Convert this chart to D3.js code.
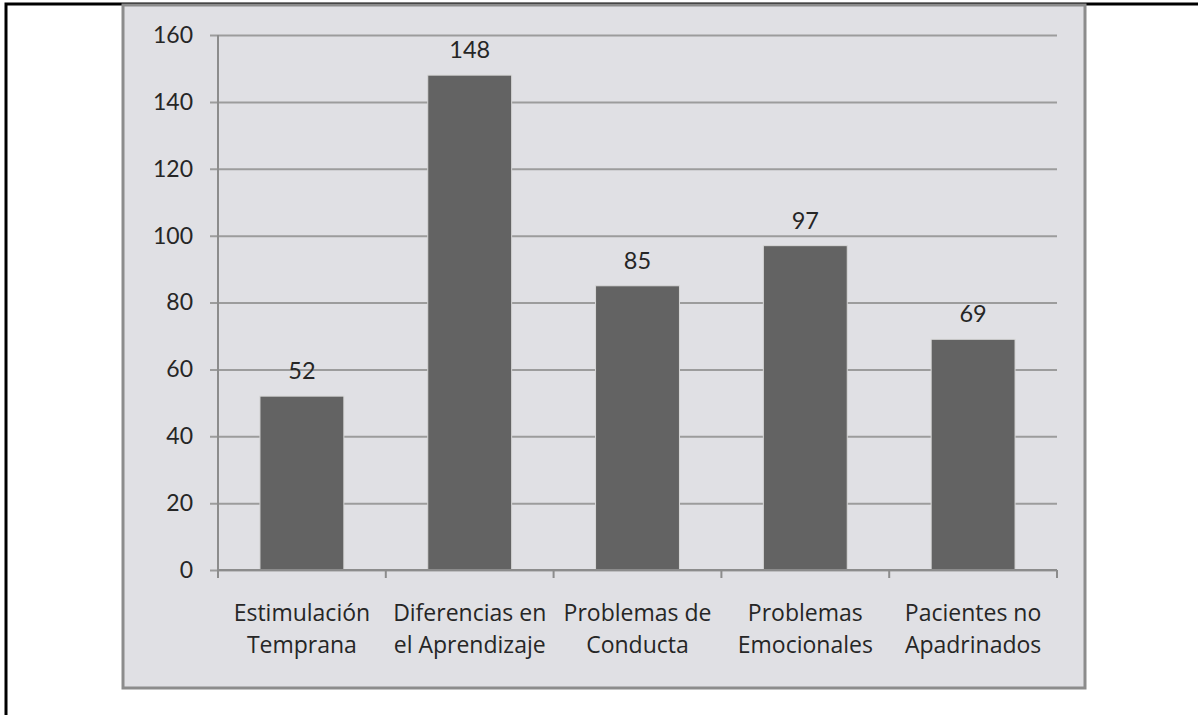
<!DOCTYPE html>
<html>
<head>
<meta charset="utf-8">
<title>Pacientes por programa</title>
<script src="https://d3js.org/d3.v7.min.js"></script>
<style>
  body { margin: 0; background: #fff; }
  svg { display: block; font-family: Lato, "Open Sans", sans-serif; }
</style>
</head>
<body>
<svg id="chart" width="1198" height="715"></svg>
<script>
// data
var categories = ["Estimulación Temprana", "Diferencias en el Aprendizaje", "Problemas de Conducta", "Problemas Emocionales", "Pacientes no Apadrinados"];
var labelLines = [["Estimulación", "Temprana"], ["Diferencias en", "el Aprendizaje"], ["Problemas de", "Conducta"], ["Problemas", "Emocionales"], ["Pacientes no", "Apadrinados"]];
var values = [52, 148, 85, 97, 69];
var yTicks = [0, 20, 40, 60, 80, 100, 120, 140, 160];

var svg = d3.select("#chart");

// outer frame (only top + left edges show)
svg.append("path")
  .attr("d", "M6,715 V4 H1198")
  .attr("fill", "none")
  .attr("stroke", "#000")
  .attr("stroke-width", 3);

// chart panel
svg.append("rect")
  .attr("x", 123).attr("y", 5)
  .attr("width", 962).attr("height", 683)
  .attr("fill", "#e0e0e4")
  .attr("stroke", "#8c8c8c")
  .attr("stroke-width", 3);

var x = d3.scaleBand()
  .domain(categories)
  .range([218, 1057])
  .paddingInner(0.5)
  .paddingOuter(0.25);

var y = d3.scaleLinear()
  .domain([0, 160])
  .range([570, 35]);

// gridlines + y axis
var yAxis = d3.axisLeft(y)
  .tickValues(yTicks)
  .tickSize(-(1057 - 210))
  .tickPadding(18);

var gy = svg.append("g")
  .attr("transform", "translate(210,0)")
  .call(yAxis);
gy.select(".domain").remove();
gy.selectAll(".tick line")
  .attr("stroke", "#9c9c9c")
  .attr("stroke-width", 2);
gy.selectAll(".tick text")
  .attr("x", -17)
  .attr("fill", "#262626")
  .style("font-size", "23px")
  .style("font-family", "Lato, sans-serif");

// vertical axis line
svg.append("line")
  .attr("x1", 218).attr("x2", 218)
  .attr("y1", y(160)).attr("y2", y(0) + 8)
  .attr("stroke", "#8c8c8c")
  .attr("stroke-width", 2);

// bars
svg.selectAll(".bar")
  .data(values)
  .enter()
  .append("rect")
  .attr("class", "bar")
  .attr("x", function(d, i) { return x(categories[i]); })
  .attr("y", function(d) { return y(d); })
  .attr("width", x.bandwidth())
  .attr("height", function(d) { return y(0) - y(d); })
  .attr("fill", "#636363")
  .attr("stroke", "#d8d8d8")
  .attr("stroke-width", 1);

// x axis line and category dividers
svg.append("line")
  .attr("x1", 218).attr("x2", 1057)
  .attr("y1", y(0)).attr("y2", y(0))
  .attr("stroke", "#8c8c8c")
  .attr("stroke-width", 2);

var step = x.step();
var dividers = d3.range(categories.length + 1).map(function(i) {
  return x(categories[0]) - step * 0.25 + i * step;
});
svg.selectAll(".divider")
  .data(dividers)
  .enter()
  .append("line")
  .attr("class", "divider")
  .attr("x1", function(d) { return d; })
  .attr("x2", function(d) { return d; })
  .attr("y1", y(0))
  .attr("y2", y(0) + 8)
  .attr("stroke", "#8c8c8c")
  .attr("stroke-width", 2);

// value labels
svg.selectAll(".val")
  .data(values)
  .enter()
  .append("text")
  .attr("class", "val")
  .attr("x", function(d, i) { return x(categories[i]) + x.bandwidth() / 2; })
  .attr("y", function(d) { return y(d) - 17; })
  .attr("text-anchor", "middle")
  .attr("fill", "#262626")
  .style("font-size", "23.5px")
  .text(function(d) { return d; });

// category labels
var cat = svg.selectAll(".cat")
  .data(labelLines)
  .enter()
  .append("text")
  .attr("class", "cat")
  .attr("text-anchor", "middle")
  .attr("fill", "#262626")
  .style("font-family", "'Open Sans', sans-serif")
  .style("font-size", "23px");

cat.selectAll("tspan")
  .data(function(d, i) { return d.map(function(t) { return { t: t, i: i }; }); })
  .enter()
  .append("tspan")
  .attr("x", function(d) { return x(categories[d.i]) + x.bandwidth() / 2; })
  .attr("y", function(d, j) { return 621 + j * 32; })
  .text(function(d) { return d.t; });
</script>
</body>
</html>
